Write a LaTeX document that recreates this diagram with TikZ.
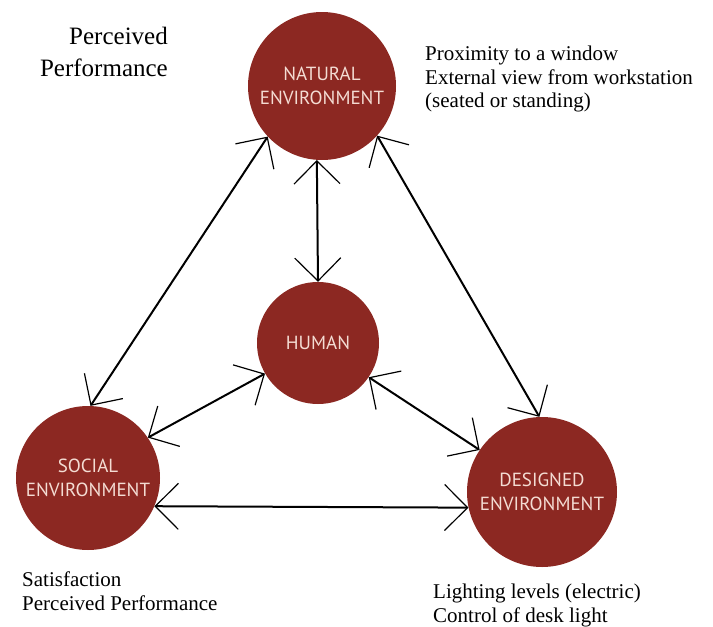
\documentclass[tikz,border=0pt]{standalone}
\usepackage{fontspec}
\setmainfont{Liberation Serif}
\newfontfamily\circfont{PT Sans}
\usetikzlibrary{arrows.meta}
\definecolor{circred}{HTML}{8C2822}
\definecolor{circtext}{HTML}{F4DCD3}
\begin{document}
\begin{tikzpicture}[x=1pt,y=-1pt,
  env/.style={circle, fill=circred, draw=none, inner sep=0pt, minimum size=#1,
    text=circtext, font=\circfont\fontsize{19}{23.5}\selectfont, align=center},
  link/.style={line width=2pt, {Straight Barb[length=23pt,width=46pt,line width=1.2pt]}-{Straight Barb[length=23pt,width=46pt,line width=1.2pt]}},
  lbl/.style={font=\fontsize{21}{24}\selectfont, align=left, inner sep=0pt, anchor=north west}]
\fill[white] (0,0) rectangle (713,627);
\useasboundingbox (0,0) rectangle (713,627);

\node[env=148pt] (nat) at (322,86) {NATURAL\\ENVIRONMENT};
\node[env=122pt] (hum) at (318,343) {HUMAN};
\node[env=144pt] (soc) at (88,478) {SOCIAL\\ENVIRONMENT};
\node[env=150pt] (des) at (542,492) {DESIGNED\\ENVIRONMENT};

\draw[link] (nat.266) -- (hum.90);
\draw[link] (nat.223) -- (soc.88);
\draw[link] (nat.318) -- (des.92);
\draw[link] (hum.210) -- (soc.34);
\draw[link] (hum.326) -- (des.146);
\draw[link] (soc.337) -- (des.192);

\node[font=\fontsize{25}{32}\selectfont, align=right, inner sep=0pt, anchor=north east] (pp) at (168,27) {Perceived\\Performance};
\node[lbl, font=\fontsize{21}{23.5}\selectfont] (nlab) at (425,46) {Proximity to a window\\External view from workstation\\(seated or standing)};
\node[lbl] (slab) at (22,572) {Satisfaction\\Perceived Performance};
\node[lbl] (dlab) at (433,584) {Lighting levels (electric)\\Control of desk light};
\end{tikzpicture}
\end{document}
